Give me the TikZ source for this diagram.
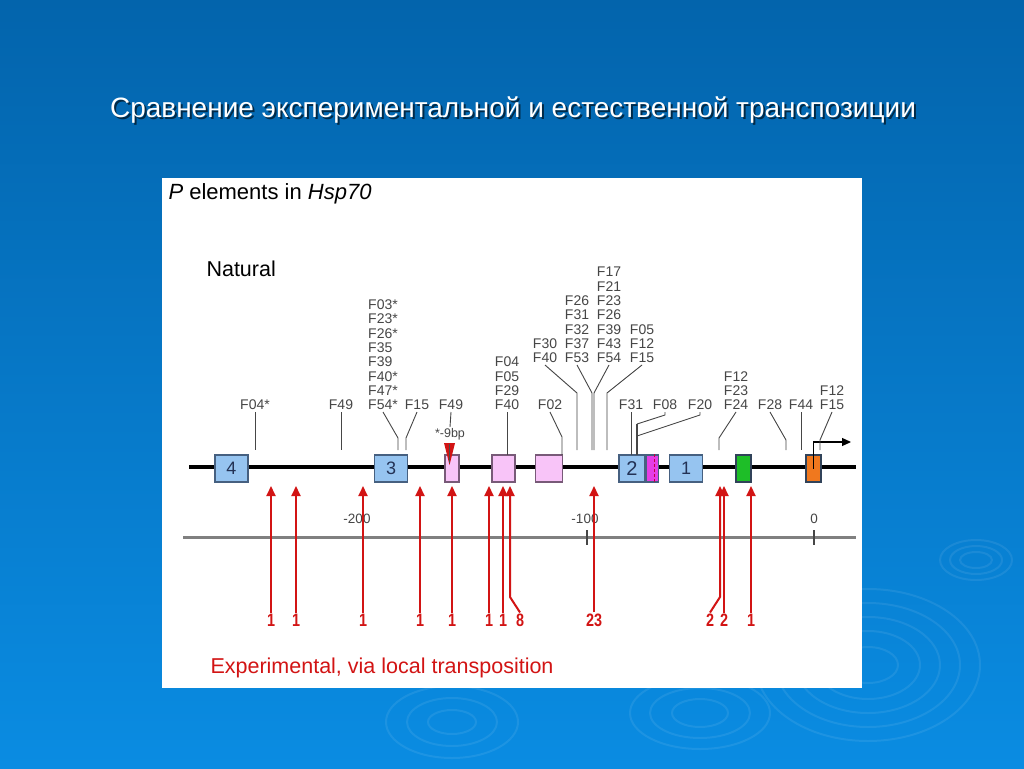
\documentclass[tikz,border=0pt]{standalone}
\usepackage{fontspec}
\setmainfont{Liberation Sans}
\newfontfamily\cntfont[FakeStretch=0.8]{Liberation Sans}
\usetikzlibrary{positioning, arrows.meta}

\definecolor{bgtop}{RGB}{3,100,172}
\definecolor{bgbottom}{RGB}{10,140,226}
\definecolor{exonblue}{RGB}{150,196,240}
\definecolor{exonedge}{RGB}{70,96,128}
\definecolor{exontext}{RGB}{35,50,85}
\definecolor{pinkbox}{RGB}{248,196,248}
\definecolor{pinkedge}{RGB}{120,90,120}
\definecolor{magbox}{RGB}{230,60,230}
\definecolor{greenbox}{RGB}{30,190,40}
\definecolor{orangebox}{RGB}{240,120,30}
\definecolor{labgray}{RGB}{70,70,70}
\definecolor{expred}{RGB}{210,20,20}
\definecolor{axisgray}{RGB}{128,128,128}

\begin{document}
\begin{tikzpicture}[x=1pt, y=-1pt]

	\tikzstyle{exon}=[draw=exonedge, fill=exonblue, line width=1.2pt, minimum width=33pt, minimum height=27pt, inner sep=0pt, font=\fontsize{18}{18}\selectfont, text=exontext]
	\tikzstyle{intron}=[exon, fill=pinkbox, draw=pinkedge]
	\tikzstyle{site}=[font=\fontsize{14}{14.3}\selectfont, text=labgray, inner sep=2pt, align=left, anchor=south]
	\tikzstyle{lead}=[labgray, line width=0.9pt]
	\tikzstyle{exp}=[expred, line width=2pt, -{Stealth[length=10pt, width=9pt, inset=0pt]}]
	\tikzstyle{count}=[font=\cntfont\bfseries\fontsize{18}{18}\selectfont, text=expred, inner sep=1pt]
	\tikzstyle{ripple}=[white, opacity=0.08, line width=2pt]

	% slide background
	\shade[top color=bgtop, bottom color=bgbottom] (0,0) rectangle (1024,768);
	\useasboundingbox (0,0) rectangle (1024,768);
	\foreach \rx/\ry in {36/20, 26/14, 16/8} \draw[ripple] (976,560) ellipse ({\rx} and {\ry});
	\foreach \rx/\ry in {112/76, 92/62, 72/48, 52/34, 30/18} \draw[ripple] (868,665) ellipse ({\rx} and {\ry});
	\foreach \rx/\ry in {70/36, 50/25, 28/14} \draw[ripple] (700,713) ellipse ({\rx} and {\ry});
	\foreach \rx/\ry in {66/36, 45/24, 24/12} \draw[ripple] (452,722) ellipse ({\rx} and {\ry});

	\node[text=black, opacity=0.6, font=\fontsize{28}{28}\selectfont] (titleshadow) at (515,112) {Сравнение экспериментальной и естественной транспозиции};
	\node[text=white, font=\fontsize{28}{28}\selectfont] (title) at (513,110) {Сравнение экспериментальной и естественной транспозиции};

	\fill[white] (162,178) rectangle (862,688);

	\node[anchor=west, font=\fontsize{22}{22}\selectfont] (heading) at (165,194) {\textit{P} elements in \textit{Hsp70}};
	\node[anchor=west, font=\fontsize{21.5}{21.5}\selectfont] (natural) at (203,269) {Natural};

	% gene
	\draw[line width=4pt] (189,467) coordinate (dnaL) -- (856,467) coordinate (dnaR);
	\node[exon] (exon4) at (231.5,468.5) {4};
	\node[exon] (exon3) at (391,468.5) {3};
	\node[intron, minimum width=14pt] (ins1) at (452,468.5) {};
	\node[intron, minimum width=23pt] (ins2) at (503.5,468.5) {};
	\node[intron, minimum width=27pt] (ins3) at (549,468.5) {};
	\node[exon, minimum width=26pt, font=\fontsize{20}{20}\selectfont] (exon2) at (632,468.5) {2};
	\node[exon, fill=magbox, draw=exonedge, minimum width=12pt, right=0pt of exon2] (exon2b) {};
	\draw[densely dashed, purple, line width=0.8pt] ([xshift=2pt]exon2b.north) -- ([xshift=2pt]exon2b.south);
	\node[exon] (exon1) at (686,468.5) {1};
	\node[exon, fill=greenbox, draw=exonedge!70!black, minimum width=15pt] (green) at (743.5,468.5) {};
	\node[exon, fill=orangebox, draw=exonedge!70!black, minimum width=15pt] (orange) at (813.5,468.5) {};
	\coordinate (promend) at (851,442);
	\draw[line width=1.2pt, -{Stealth[length=9pt, width=8pt, inset=0pt]}] (orange.center) |- (promend);

	% deletion mark
	\fill[expred] (444,443) -- (455,443) -- (449.5,465) -- cycle;
	\draw[black!70, line width=0.8pt] (449.5,444) -- (449.5,463);

	% natural insertions
	\node[site] (natA) at (255,412) {F04*};
	\node[site] (natB) at (341,412) {F49};
	\node[site] (natC) at (383,412) {F03*\\F23*\\F26*\\F35\\F39\\F40*\\F47*\\F54*};
	\node[site] (natD) at (417,412) {F15};
	\node[site] (natE) at (451,412) {F49};
	\node[site, font=\fontsize{12.5}{13}\selectfont, inner sep=1pt] (del) at (450,441) {*-9bp};
	\node[site] (natF) at (507,412) {F04\\F05\\F29\\F40};
	\node[site] (natG) at (545,365) {F30\\F40};
	\node[site] (natH) at (577,365) {F26\\F31\\F32\\F37\\F53};
	\node[site] (natI) at (609,365) {F17\\F21\\F23\\F26\\F39\\F43\\F54};
	\node[site] (natJ) at (642,365) {F05\\F12\\F15};
	\node[site] (natK) at (550,412) {F02};
	\node[site] (natL) at (631,412) {F31};
	\node[site] (natM) at (665,412) {F08};
	\node[site] (natN) at (700,412) {F20};
	\node[site] (natO) at (736,412) {F12\\F23\\F24};
	\node[site] (natP) at (770,412) {F28};
	\node[site] (natQ) at (801,412) {F44};
	\node[site] (natR) at (832,412) {F12\\F15};

	\coordinate (sA) at (255,450);
	\coordinate (sB) at (341,450);
	\coordinate (sC) at (398,450);
	\coordinate (sD) at (406,450);
	\coordinate (sF) at (507,455);
	\coordinate (sG) at (577,450);
	\coordinate (sH) at (592,450);
	\coordinate (sI) at (594,450);
	\coordinate (sJ) at (607,450);
	\coordinate (sK) at (562,455);
	\coordinate (sL) at (631,455);
	\coordinate (sM) at (637,455);
	\coordinate (sO) at (719,450);
	\coordinate (sP) at (786,450);
	\coordinate (sQ) at (801,450);
	\coordinate (sR) at (820,450);

	\draw[lead] (natA.south) -- (sA);
	\draw[lead] (natB.south) -- (sB);
	\draw[lead] (natC.south) -- ([yshift=12pt]sC) -- (sC);
	\draw[lead] (natD.south) -- ([yshift=12pt]sD) -- (sD);
	\draw[lead] (natE.south) -- (del.north);
	\draw[lead] (natF.south) -- (sF);
	\draw[lead] (natG.south) -- ([yshift=57pt]sG) -- (sG);
	\draw[lead] (natH.south) -- ([yshift=57pt]sH) -- (sH);
	\draw[lead] (natI.south) -- ([yshift=57pt]sI) -- (sI);
	\draw[lead] (natJ.south) -- ([yshift=57pt]sJ) -- (sJ);
	\draw[lead] (natK.south) -- ([yshift=18pt]sK) -- (sK);
	\draw[lead] (natL.south) -- (sL);
	\draw[lead] (natM.south) -- ++(0,3) -- ([yshift=31pt]sM);
	\draw[lead, line width=1.6pt] ([yshift=31pt]sM) -- (sM);
	\draw[lead] (natN.south) -- ++(0,3) -- ([yshift=19pt]sM);
	\draw[lead] (natO.south) -- ([yshift=12pt]sO) -- (sO);
	\draw[lead] (natP.south) -- ([yshift=10pt]sP) -- (sP);
	\draw[lead] (natQ.south) -- (sQ);
	\draw[lead] (natR.south) -- ([yshift=10pt]sR) -- (sR);

	% coordinate axis
	\draw[axisgray, line width=3pt] (183,537) coordinate (axL) -- (856,537) coordinate (axR);
	\node[font=\fontsize{13.5}{13.5}\selectfont, text=labgray] (m200) at (357,519) {-200};
	\node[font=\fontsize{13.5}{13.5}\selectfont, text=labgray] (m100) at (585,519) {-100};
	\node[font=\fontsize{13.5}{13.5}\selectfont, text=labgray] (zero) at (814,519) {0};
	\draw[labgray, line width=1.5pt] (587,530) -- (587,545);
	\draw[labgray, line width=1.5pt] (814,530) -- (814,545);

	% experimental insertions
	\foreach \x/\n [count=\i] in {271/1, 296/1, 363/1, 420/1, 452/1, 489/1, 503/1, 594/23, 724/2, 751/1} {
		\node[count] (cnt\i) at (\x,620) {\n};
		\coordinate (tip\i) at (\x,486);
		\draw[exp] (cnt\i.north) -- (tip\i);
	}
	\node[count] (cnt8b) at (520,620) {8};
	\coordinate (tip8b) at (510,486);
	\draw[exp] (cnt8b.north) -- (510,597) -- (tip8b);
	\node[count] (cnt2b) at (710,620) {2};
	\coordinate (tip2b) at (720,486);
	\draw[exp] (cnt2b.north) -- (720,597) -- (tip2b);

	\node[anchor=west, text=expred, font=\fontsize{21.5}{21.5}\selectfont] (experimental) at (207,668) {Experimental, via local transposition};

\end{tikzpicture}
\end{document}
